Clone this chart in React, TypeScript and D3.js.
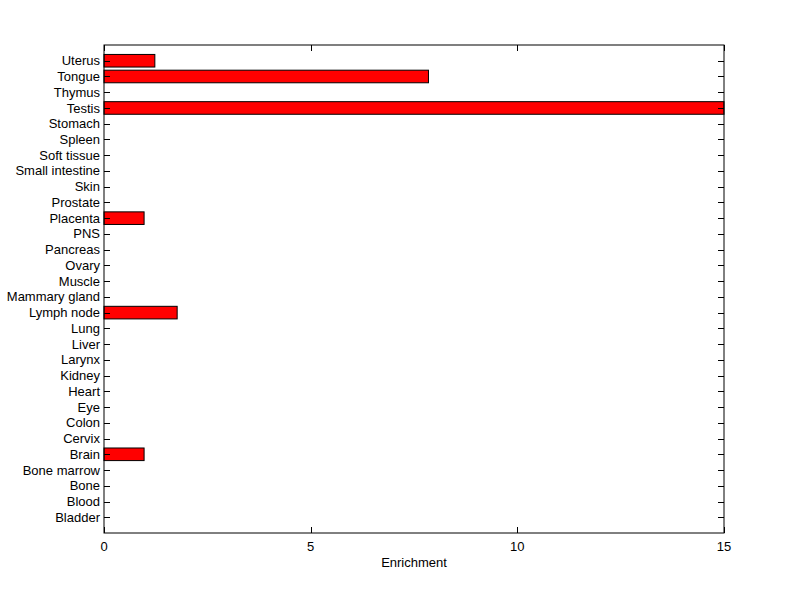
import * as d3 from 'd3';

// tissues, bottom to top as in the plot
const tissues = [
  'Bladder', 'Blood', 'Bone', 'Bone marrow', 'Brain', 'Cervix', 'Colon', 'Eye', 'Heart', 'Kidney',
  'Larynx', 'Liver', 'Lung', 'Lymph node', 'Mammary gland', 'Muscle', 'Ovary', 'Pancreas', 'PNS',
  'Placenta', 'Prostate', 'Skin', 'Small intestine', 'Soft tissue', 'Spleen', 'Stomach', 'Testis',
  'Thymus', 'Tongue', 'Uterus',
];
const enrichment = [
  0, 0, 0, 0, 0.97, 0, 0, 0, 0, 0,
  0, 0, 0, 1.77, 0, 0, 0, 0, 0,
  0.97, 0, 0, 0, 0, 0, 0, 15,
  0, 7.85, 1.23,
];
const xTicks = [0, 5, 10, 15];

const W = 800;
const H = 599;
const left = 104;
const right = 724;
const top = 45;
const bottom = 533;
const tick = 6;
const font = 'Liberation Sans, Arial, Helvetica, sans-serif';

export default function App() {
  const x = d3.scaleLinear().domain([0, 15]).range([left, right]);
  const y = d3.scaleLinear().domain([0, tissues.length + 1]).range([bottom, top]);
  const barH = Math.abs(y(0.8) - y(0));

  return (
    <svg
      width={W}
      height={H}
      style={{ position: 'absolute', left: 0, top: 0, background: '#fff' }}
      fontFamily={font}
      fontSize={13}
    >
      <rect x={0} y={0} width={W} height={H} fill="#fff" />
      {/* bars */}
      {tissues.map((t, i) =>
        enrichment[i] > 0 ? (
          <rect
            key={t}
            x={x(0)}
            y={y(i + 1) - barH / 2}
            width={x(enrichment[i]) - x(0)}
            height={barH}
            fill="#ff0000"
            stroke="#000"
            strokeWidth={1}
          />
        ) : null
      )}
      {/* box */}
      <rect x={left} y={top} width={right - left} height={bottom - top} fill="none" stroke="#000" strokeWidth={1} />
      {/* y ticks + labels */}
      {tissues.map((t, i) => (
        <g key={t}>
          <line x1={left} x2={left + tick} y1={Math.round(y(i + 1)) + 0.5} y2={Math.round(y(i + 1)) + 0.5} stroke="#000" />
          <line x1={right - tick} x2={right} y1={Math.round(y(i + 1)) + 0.5} y2={Math.round(y(i + 1)) + 0.5} stroke="#000" />
          <text x={left - 4} y={y(i + 1)} dy="0.35em" textAnchor="end" fill="#000">
            {t}
          </text>
        </g>
      ))}
      {/* x ticks + labels */}
      {xTicks.map((v) => (
        <g key={v}>
          <line x1={Math.round(x(v)) + 0.5} x2={Math.round(x(v)) + 0.5} y1={bottom} y2={bottom - tick} stroke="#000" />
          <line x1={Math.round(x(v)) + 0.5} x2={Math.round(x(v)) + 0.5} y1={top} y2={top + tick} stroke="#000" />
          <text x={x(v)} y={bottom + 18} textAnchor="middle" fill="#000">
            {v}
          </text>
        </g>
      ))}
      <text x={(left + right) / 2} y={bottom + 34} textAnchor="middle" fill="#000">
        Enrichment
      </text>
    </svg>
  );
}
